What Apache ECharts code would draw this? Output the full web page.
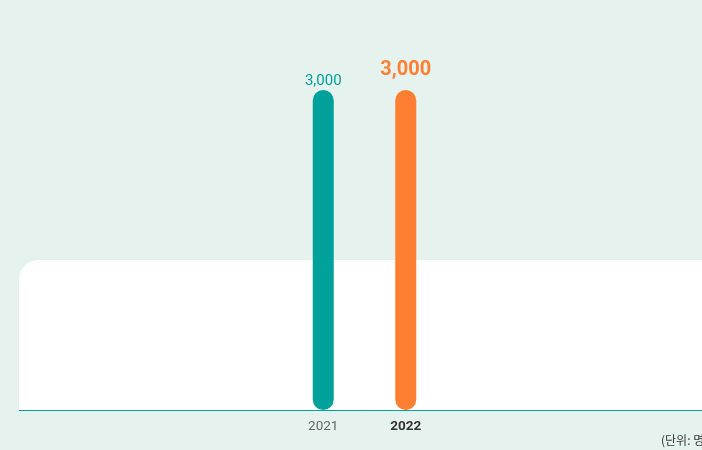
<!DOCTYPE html>
<html><head><meta charset="utf-8">
<script src="https://cdn.jsdelivr.net/npm/echarts@6/dist/echarts.min.js"></script>
<style>html,body{margin:0;padding:0;background:#e5f2ee;}#c{width:702px;height:450px;}</style>
</head><body><div id="c"></div>
<script>
const categories = ['2021', '2022'];
const values = [3000, 3000];
const unitLabel = '(단위: 명)';
const barColors = ['#00a19a', '#ff7f32'];

const chart = echarts.init(document.getElementById('c'));
chart.setOption({
  backgroundColor: '#e5f2ee',
  animation: false,
  textStyle: { fontFamily: 'Roboto, "Noto Sans CJK KR", sans-serif' },
  grid: { left: 282, right: 255, top: 90, bottom: 40 },
  graphic: [
    { type: 'rect', z: -10, shape: { x: 19, y: 260, width: 710, height: 150, r: [20, 20, 0, 0] }, style: { fill: '#ffffff' } },
    { type: 'line', z: -5, shape: { x1: 19, y1: 410.5, x2: 702, y2: 410.5 }, style: { stroke: '#00a19a', lineWidth: 1 } },
    { type: 'text', left: 661, top: 434, style: { text: unitLabel, fill: '#333333', font: '12px "Noto Sans CJK KR", sans-serif' } }
  ],
  xAxis: {
    type: 'category', data: categories,
    axisLine: { show: false }, axisTick: { show: false },
    axisLabel: {
      margin: 10, fontSize: 13,
      formatter: (v, i) => i === 1 ? '{b|' + v + '}' : '{a|' + v + '}',
      rich: {
        a: { color: '#666666', fontSize: 13.5, fontFamily: 'Roboto' },
        b: { color: '#333333', fontSize: 13.5, fontWeight: 'bold', fontFamily: 'Roboto' }
      }
    }
  },
  yAxis: { type: 'value', min: 0, max: 3000, show: false, splitLine: { show: false } },
  series: [{
    type: 'bar', barWidth: 21,
    data: values.map((v, i) => ({
      value: v,
      itemStyle: { color: barColors[i], borderRadius: 10.5 },
      label: i === 1
        ? { show: true, position: 'top', distance: 10, color: barColors[1], fontSize: 20, fontWeight: 'bold', formatter: p => p.value.toLocaleString('en-US') }
        : { show: true, position: 'top', distance: 1, color: barColors[0], fontSize: 15, formatter: p => p.value.toLocaleString('en-US') }
    }))
  }]
});
</script></body></html>
